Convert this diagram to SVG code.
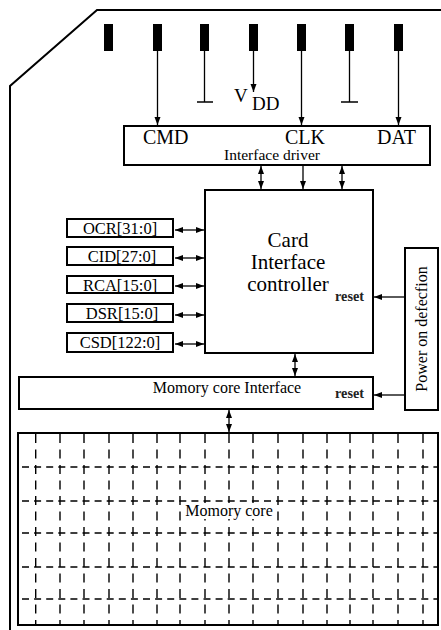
<svg xmlns="http://www.w3.org/2000/svg" width="441" height="630" viewBox="0 0 441 630">
<defs>
<marker id="ah" markerUnits="userSpaceOnUse" markerWidth="9" markerHeight="7" refX="8" refY="3.5" orient="auto-start-reverse">
<path d="M0,0.5 L8,3.5 L0,6.5 Z" fill="#000"/>
</marker>
<style>
.box{fill:#fff;stroke:#000;stroke-width:2}
.pin{fill:#000}
.ln{stroke:#000;stroke-width:1.3;fill:none}
.t{font-family:"Liberation Serif","Times New Roman",serif;fill:#000}
.rs{font-family:"Liberation Serif",serif;font-weight:bold;font-size:14px;fill:#222}
.gv{stroke:#000;stroke-width:1.4;stroke-dasharray:9 6.5;stroke-dashoffset:0}
.gh{stroke:#000;stroke-width:1.4;stroke-dasharray:7 5.1;stroke-dashoffset:-3}
</style>
</defs>
<rect width="441" height="630" fill="#fff"/>
<path d="M441,10 L97,10 L10,86 L10,630" fill="none" stroke="#000" stroke-width="2"/>

<g id="pins">
<rect class="pin" x="104" y="24" width="9" height="27"/>
<rect class="pin" x="153" y="24" width="9" height="27"/>
<rect class="pin" x="200" y="24" width="9" height="27"/>
<rect class="pin" x="249" y="24" width="9" height="27"/>
<rect class="pin" x="297" y="24" width="9" height="27"/>
<rect class="pin" x="345" y="24" width="9" height="27"/>
<rect class="pin" x="394" y="24" width="9" height="27"/>
</g>

<g id="vdd">
<text class="t" x="234" y="102" font-size="19">V</text>
<text class="t" x="252" y="110" font-size="19">DD</text>
</g>

<g id="interface-driver">
<rect class="box" x="124" y="126" width="306" height="39"/>
<text class="t" x="143" y="144" font-size="20">CMD</text>
<text class="t" x="285" y="144" font-size="20">CLK</text>
<text class="t" x="377" y="144" font-size="20">DAT</text>
<text class="t" x="272" y="160" font-size="15.5" text-anchor="middle">Interface driver</text>
</g>

<g id="controller">
<rect class="box" x="205" y="190" width="168" height="163"/>
<text class="t" x="288" y="247" font-size="21" text-anchor="middle">Card</text>
<text class="t" x="288" y="269" font-size="21" text-anchor="middle">Interface</text>
<text class="t" x="288" y="291" font-size="21" text-anchor="middle">controller</text>
<text class="rs" x="335" y="301" textLength="29" lengthAdjust="spacingAndGlyphs">reset</text>
</g>

<g id="ocr"><rect class="box" x="67" y="219" width="106" height="18"/><text class="t" x="120" y="234" font-size="16.5" text-anchor="middle">OCR[31:0]</text></g>
<g id="cid"><rect class="box" x="67" y="247" width="106" height="18"/><text class="t" x="122" y="262" font-size="16.5" text-anchor="middle">CID[27:0]</text></g>
<g id="rca"><rect class="box" x="67" y="276" width="106" height="17"/><text class="t" x="120" y="291" font-size="16.5" text-anchor="middle">RCA[15:0]</text></g>
<g id="dsr"><rect class="box" x="67" y="304" width="106" height="18"/><text class="t" x="122" y="319" font-size="16.5" text-anchor="middle">DSR[15:0]</text></g>
<g id="csd"><rect class="box" x="67" y="333" width="106" height="19"/><text class="t" x="120" y="348" font-size="16.5" text-anchor="middle">CSD[122:0]</text></g>

<g id="power">
<rect class="box" x="405" y="248" width="33" height="162"/>
<text class="t" x="0" y="0" font-size="16" text-anchor="middle" transform="translate(427,329) rotate(-90)">Power on defecfion</text>
</g>

<g id="memory-interface">
<rect class="box" x="19" y="377" width="354" height="32"/>
<text class="t" x="227" y="393" font-size="16" text-anchor="middle">Momory core Interface</text>
<text class="rs" x="335" y="398" textLength="29" lengthAdjust="spacingAndGlyphs">reset</text>
</g>

<g id="memory-core">
<rect class="box" x="18" y="433" width="420" height="192"/>
<g>
<line class="gv" x1="35.7" y1="434" x2="35.7" y2="624"/>
<line class="gv" x1="60" y1="434" x2="60" y2="624"/>
<line class="gv" x1="84" y1="434" x2="84" y2="624"/>
<line class="gv" x1="109" y1="434" x2="109" y2="624"/>
<line class="gv" x1="133" y1="434" x2="133" y2="624"/>
<line class="gv" x1="157" y1="434" x2="157" y2="624"/>
<line class="gv" x1="180" y1="434" x2="180" y2="624"/>
<line class="gv" x1="205" y1="434" x2="205" y2="624"/>
<line class="gv" x1="229" y1="434" x2="229" y2="624"/>
<line class="gv" x1="253" y1="434" x2="253" y2="624"/>
<line class="gv" x1="278" y1="434" x2="278" y2="624"/>
<line class="gv" x1="303" y1="434" x2="303" y2="624"/>
<line class="gv" x1="327" y1="434" x2="327" y2="624"/>
<line class="gv" x1="350" y1="434" x2="350" y2="624"/>
<line class="gv" x1="373" y1="434" x2="373" y2="624"/>
<line class="gv" x1="398" y1="434" x2="398" y2="624"/>
<line class="gv" x1="423" y1="434" x2="423" y2="624"/>
<line class="gh" x1="19" y1="467" x2="437" y2="467"/>
<line class="gh" x1="19" y1="501" x2="437" y2="501"/>
<line class="gh" x1="19" y1="533" x2="437" y2="533"/>
<line class="gh" x1="19" y1="567" x2="437" y2="567"/>
<line class="gh" x1="19" y1="599" x2="437" y2="599"/>
</g>
<rect x="186" y="503" width="87" height="16" fill="#fff"/>
<text class="t" x="229" y="516" font-size="16" text-anchor="middle">Momory core</text>
</g>

<g id="connectors">
<line class="ln" x1="157.5" y1="51" x2="157.5" y2="125" marker-end="url(#ah)"/>
<line class="ln" x1="253.5" y1="51" x2="253.5" y2="92" marker-end="url(#ah)"/>
<line class="ln" x1="301.5" y1="51" x2="301.5" y2="125" marker-end="url(#ah)"/>
<line class="ln" x1="398.5" y1="51" x2="398.5" y2="125" marker-end="url(#ah)"/>
<path class="ln" d="M204.5,51 V102 M197,102 H213"/>
<path class="ln" d="M349.5,51 V102 M341,102 H358"/>
<line class="ln" x1="261" y1="166" x2="261" y2="189" marker-start="url(#ah)" marker-end="url(#ah)"/>
<line class="ln" x1="303" y1="166" x2="303" y2="189" marker-end="url(#ah)"/>
<line class="ln" x1="342" y1="166" x2="342" y2="189" marker-start="url(#ah)" marker-end="url(#ah)"/>
<line class="ln" x1="175" y1="230" x2="204" y2="230" marker-start="url(#ah)" marker-end="url(#ah)"/>
<line class="ln" x1="175" y1="258" x2="204" y2="258" marker-start="url(#ah)" marker-end="url(#ah)"/>
<line class="ln" x1="175" y1="286" x2="204" y2="286" marker-start="url(#ah)" marker-end="url(#ah)"/>
<line class="ln" x1="175" y1="315" x2="204" y2="315" marker-start="url(#ah)" marker-end="url(#ah)"/>
<line class="ln" x1="175" y1="344" x2="204" y2="344" marker-start="url(#ah)" marker-end="url(#ah)"/>
<line class="ln" x1="295" y1="354" x2="295" y2="376" marker-start="url(#ah)" marker-end="url(#ah)"/>
<line class="ln" x1="404" y1="297" x2="374" y2="297" marker-end="url(#ah)"/>
<line class="ln" x1="404" y1="395" x2="374" y2="395" marker-end="url(#ah)"/>
<line class="ln" x1="229" y1="410" x2="229" y2="432" marker-start="url(#ah)" marker-end="url(#ah)"/>
</g>
</svg>
